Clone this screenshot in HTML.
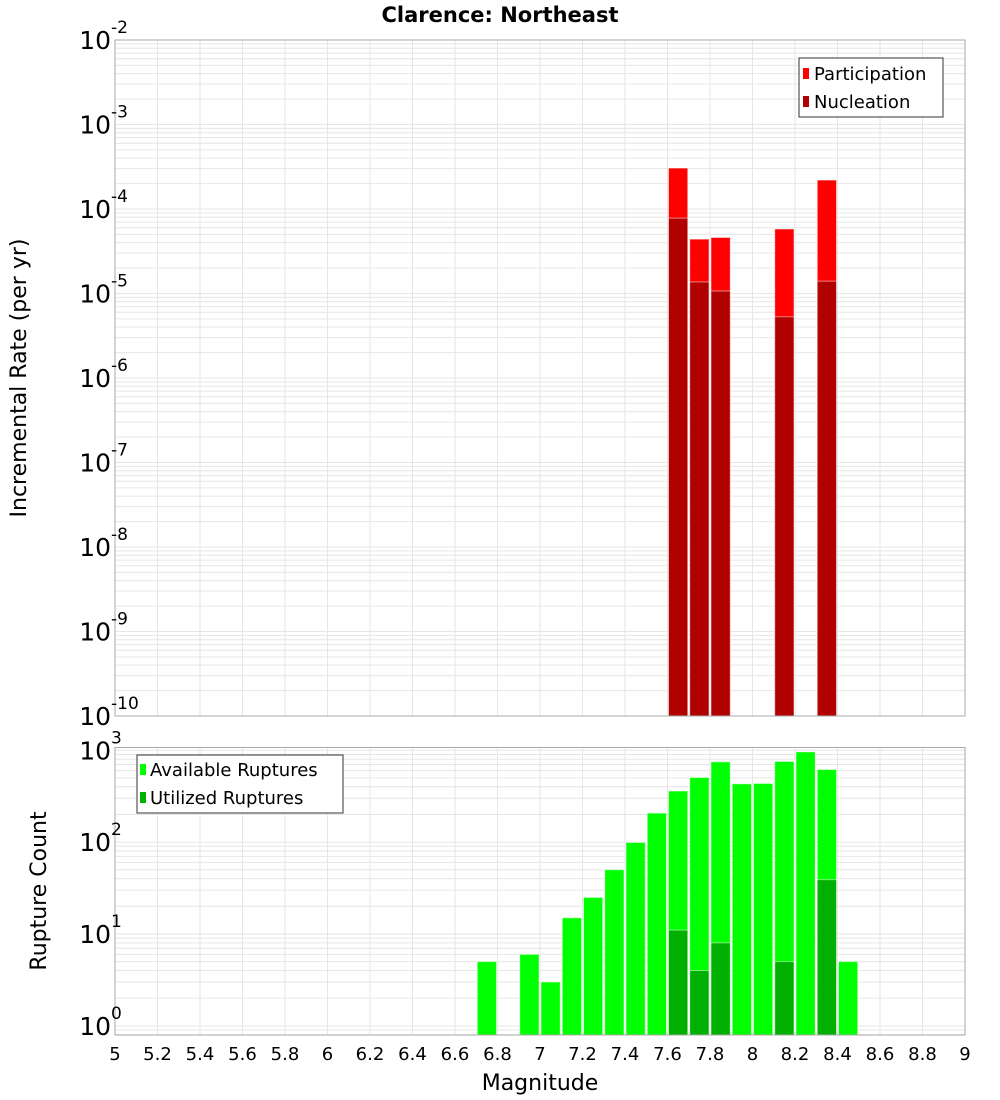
<!DOCTYPE html>
<html><head><meta charset="utf-8"><style>
body{margin:0;background:#fff;}
svg{display:block;font-family:"DejaVu Sans","Liberation Sans",sans-serif;}
</style></head><body>
<svg id="chart" width="1000" height="1100" viewBox="0 0 1000 1100">
<text x="500" y="22" text-anchor="middle" font-size="21" font-weight="bold">Clarence: Northeast</text>
<g id="top"></g><g id="bot"></g>
</svg>
<script>
const bins = [6.75,6.95,7.05,7.15,7.25,7.35,7.45,7.55,7.65,7.75,7.85,7.95,8.05,8.15,8.25,8.35,8.45];
const available = [5,6,3,15,25,50,99,207,360,505,748,431,435,755,960,617,5];
const utilizedBins = [7.65,7.75,7.85,8.15,8.35];
const utilized = [11,4,8,5,39];
const rateBins = [7.65,7.75,7.85,8.15,8.35];
const participation = [3.05e-4,4.4e-5,4.6e-5,5.8e-5,2.2e-4];
const nucleation = [7.8e-5,1.37e-5,1.07e-5,5.3e-6,1.4e-5];
const xTicks = [5,5.2,5.4,5.6,5.8,6,6.2,6.4,6.6,6.8,7,7.2,7.4,7.6,7.8,8,8.2,8.4,8.6,8.8,9];
const topExps = [-2,-3,-4,-5,-6,-7,-8,-9,-10];
const botExps = [3,2,1,0];

const NS="http://www.w3.org/2000/svg";
const L=115,R=965;
const xs=v=>L+(v-5)/4*(R-L);
const bw=(R-L)/40;
function mk(p,tag,a){const e=document.createElementNS(NS,tag);for(const k in a)e.setAttribute(k,a[k]);p.appendChild(e);return e;}
function panel(g,T,B,lmin,lmax){
  const ys=v=>B-(Math.log10(v)-lmin)/(lmax-lmin)*(B-T);
  mk(g,'rect',{x:L,y:T,width:R-L,height:B-T,fill:'#fff'});
  for(let e=Math.floor(lmin);e<=Math.ceil(lmax);e++)for(let m=1;m<10;m++){
    const v=m*Math.pow(10,e);const lv=Math.log10(v);if(lv<lmin||lv>lmax)continue;
    const y=ys(v);const gl=mk(g,'line',{x1:L,x2:R,y1:y,y2:y,stroke:'#e6e6e6','stroke-width':1});
    
    
  }
  xTicks.forEach(t=>{const x=xs(t);const gl=mk(g,'line',{x1:x,x2:x,y1:T,y2:B,stroke:'#e6e6e6','stroke-width':1});
    
    });
  return ys;
}
function ylabel(g,y,exp,x){
  const t=mk(g,'text',{x:x,y:y+9,'text-anchor':'end','font-size':25});
  
  
  t.textContent='10';
  const s=mk(g,'text',{x:x,y:y-7,'font-size':17});
  
  
  s.textContent=String(exp);
}
function bar(g,c,v,ys,B,fill,name){
  const y=ys(v);const r=mk(g,'rect',{x:xs(c)-bw/2+1,y:y,width:bw-2,height:B-y,fill:fill,stroke:'rgba(255,255,255,0.5)','stroke-width':1});
  
  
}
// top
const gt=document.getElementById('top');
const T1=40,B1=716;
const ys1=panel(gt,T1,B1,-10,-2);
rateBins.forEach((c,i)=>bar(gt,c,participation[i],ys1,B1,'#ff0000','participation-bar'));
rateBins.forEach((c,i)=>bar(gt,c,nucleation[i],ys1,B1,'#b00000','nucleation-bar'));
mk(gt,'rect',{x:L,y:T1,width:R-L,height:B1-T1,fill:'none',stroke:'#aaa'});
topExps.forEach(e=>ylabel(gt,ys1(Math.pow(10,e)),e,111));
// bottom
const gb=document.getElementById('bot');
const T2=747.5,B2=1035;
const ys2=panel(gb,T2,B2,-0.1,3.03);
bins.forEach((c,i)=>bar(gb,c,available[i],ys2,B2,'#00ff00','available-bar'));
utilizedBins.forEach((c,i)=>bar(gb,c,utilized[i],ys2,B2,'#00b000','utilized-bar'));
mk(gb,'rect',{x:L,y:T2,width:R-L,height:B2-T2,fill:'none',stroke:'#aaa'});
botExps.forEach(e=>ylabel(gb,ys2(Math.pow(10,e)),e,111));
xTicks.forEach(t=>{const tx=mk(gb,'text',{x:xs(t),y:1060,'text-anchor':'middle','font-size':18});
  
  
  tx.textContent=String(t);});
</script>
<svg style="position:absolute;left:0;top:0" width="1000" height="1100">
<text x="540" y="1090" text-anchor="middle" font-size="22" font-family="DejaVu Sans,sans-serif">Magnitude</text>
<text transform="translate(26,378) rotate(-90)" text-anchor="middle" font-size="22" font-family="DejaVu Sans,sans-serif">Incremental Rate (per yr)</text>
<text transform="translate(46,891) rotate(-90)" text-anchor="middle" font-size="22" font-family="DejaVu Sans,sans-serif">Rupture Count</text>
<g font-family="DejaVu Sans,sans-serif" font-size="18">
<rect x="799" y="58" width="144" height="59" fill="#fff" stroke="#333"/>
<rect x="803" y="68" width="6" height="11" fill="#ff0000"/><text x="814" y="80">Participation</text>
<rect x="803" y="96" width="6" height="11" fill="#b00000"/><text x="814" y="108">Nucleation</text>
</g>
<g font-family="DejaVu Sans,sans-serif" font-size="18">
<rect x="137" y="755" width="206" height="58" fill="#fff" stroke="#333"/>
<rect x="140" y="764" width="6" height="11" fill="#00ff00"/><text x="150" y="776">Available Ruptures</text>
<rect x="140" y="792" width="6" height="11" fill="#00b000"/><text x="150" y="804">Utilized Ruptures</text>
</g>
</svg>
</body></html>
